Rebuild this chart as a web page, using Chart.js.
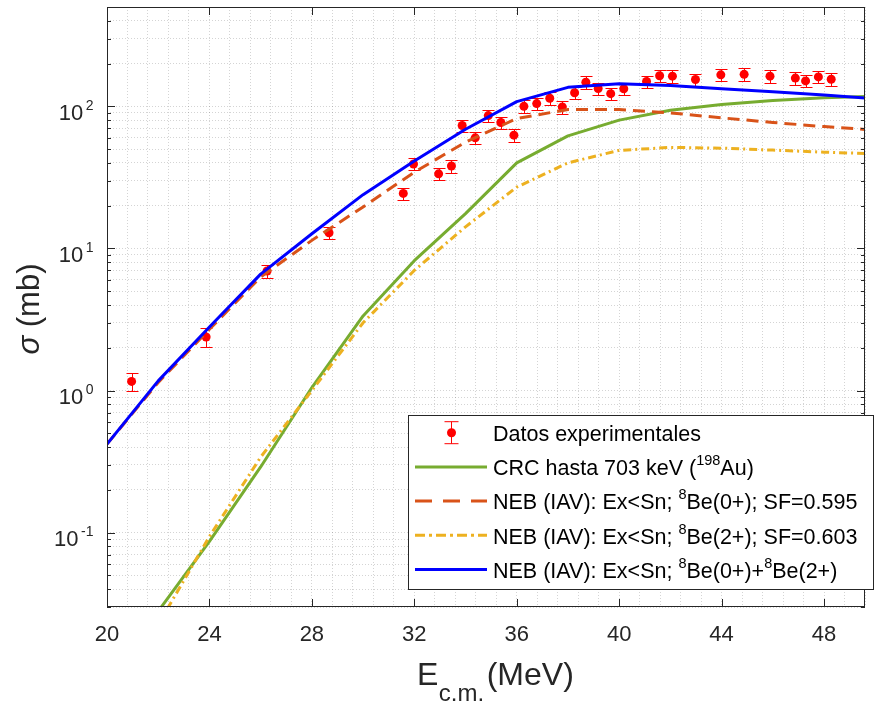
<!DOCTYPE html>
<html>
<head>
<meta charset="utf-8">
<script src="https://cdn.jsdelivr.net/npm/chart.js@4.4.1/dist/chart.umd.min.js"></script>
<style>
  body { margin: 0; background: #ffffff; }
  canvas { display: block; }
</style>
</head>
<body>
<canvas id="chart" width="880" height="704"></canvas>
<script>
"use strict";

/* energy grid of the calculated curves (MeV, c.m.) */
var curveE = [20, 22, 24, 26, 28, 30, 32, 34, 36, 38, 40, 42, 44, 46, 48, 50];
var crcSigma = [null, 0.028, 0.087, 0.29, 1.05, 3.35, 8.2, 17.6, 40, 62, 80, 94, 103, 110, 115, 118];
var neb0Sigma = [0.42, 1.14, 2.7, 6.3, 11.4, 19.6, 34.4, 56, 82, 95, 95, 90, 83, 77, 72, 68];
var neb2Sigma = [null, 0.0226, 0.094, 0.34, 1.0, 3.0, 7.0, 14.2, 27, 40, 49, 51.4, 50.8, 49.2, 47.6, 46.3];
var nebSumSigma = [0.42, 1.17, 2.8, 6.6, 12.7, 23.9, 41.2, 69, 108, 136, 144, 140, 133, 126.7, 120, 113];

/* experimental points */
var expE = [20.96, 23.87, 26.25, 28.67, 31.57, 31.97, 32.95, 33.45, 33.87, 34.38, 34.89, 35.38, 35.89,
            36.28, 36.78, 37.29, 37.78, 38.26, 38.7, 39.18, 39.67, 40.18, 41.07, 41.58, 42.08, 42.98,
            43.97, 44.88, 45.89, 46.88, 47.28, 47.78, 48.28];
var expSigma = [1.16, 2.38, 6.94, 12.9, 24.4, 39.3, 33.5, 38, 73.3, 60, 86.1, 76.9, 62.7,
                100, 104.5, 114, 98.9, 124.7, 148, 133.6, 122.8, 133, 149.6, 164, 163, 154.5,
                166.5, 168, 163, 158, 151, 161, 155];
var expErr = [0.16, 0.36, 0.7, 1.3, 2.4, 3.9, 3.3, 3.8, 7.3, 6.0, 8.6, 7.7, 6.3,
              10, 10.5, 11.4, 9.9, 12.5, 14.8, 13.4, 12.3, 13.3, 15, 16.4, 16.3, 15.5,
              16.7, 16.8, 16.3, 15.8, 15.1, 16.1, 15.5];

/* axes */
var xTickLabels = [20, 24, 28, 32, 36, 40, 44, 48];
var yDecades = [-1, 0, 1, 2];

/* legend text, sup = superscript part */
var legendLabels = [
  [{t: "Datos experimentales"}],
  [{t: "CRC hasta 703 keV ("}, {t: "198", sup: true}, {t: "Au)"}],
  [{t: "NEB (IAV): Ex<Sn; "}, {t: "8", sup: true}, {t: "Be(0+); SF=0.595"}],
  [{t: "NEB (IAV): Ex<Sn; "}, {t: "8", sup: true}, {t: "Be(2+); SF=0.603"}],
  [{t: "NEB (IAV): Ex<Sn; "}, {t: "8", sup: true}, {t: "Be(0+)+"}, {t: "8", sup: true}, {t: "Be(2+)"}]
];

var FONT = "'Liberation Sans', Arial, sans-serif";
var AXIS_COLOR = "#262626";
var GRID_COLOR = "rgba(38,38,38,0.2)";
var C_GREEN = "#77ac30", C_ORANGE = "#d95319", C_YELLOW = "#edb120", C_BLUE = "#0000ff", C_RED = "#ff0000";

function xy(xs, ys) {
  var out = [];
  for (var i = 0; i < xs.length; i++) out.push({x: xs[i], y: ys[i]});
  return out;
}

// grid positions: every 0.8 MeV on x, 1..9 x 10^n on y
var xGridValues = [];
for (var k = 0; k <= 37; k++) xGridValues.push(Number((20 + 0.8 * k).toFixed(1)));
var yGridValues = [];
for (var d = -2; d <= 2; d++) {
  for (var m = 1; m <= 9; m++) {
    var v = Number((m * Math.pow(10, d)).toPrecision(3));
    if (v >= 0.03 && v <= 500) yGridValues.push(v);
  }
}

var errorBars = {
  id: "errorBars",
  beforeDatasetsDraw: function (chart) {
    var ctx = chart.ctx, xs = chart.scales.x, ys = chart.scales.y;
    ctx.save();
    ctx.strokeStyle = C_RED;
    ctx.lineWidth = 1;
    for (var i = 0; i < expE.length; i++) {
      var px = Math.round(xs.getPixelForValue(expE[i])) + 0.5;
      var top = Math.round(ys.getPixelForValue(expSigma[i] + expErr[i])) + 0.5;
      var bot = Math.round(ys.getPixelForValue(expSigma[i] - expErr[i])) + 0.5;
      ctx.beginPath();
      ctx.moveTo(px, top); ctx.lineTo(px, bot);
      ctx.moveTo(px - 6, top); ctx.lineTo(px + 6, top);
      ctx.moveTo(px - 6, bot); ctx.lineTo(px + 6, bot);
      ctx.stroke();
    }
    ctx.restore();
  }
};

function drawRich(ctx, parts, x, y, size, supSize, raise) {
  for (var i = 0; i < parts.length; i++) {
    var p = parts[i];
    if (p.sup) {
      ctx.font = supSize + "px " + FONT;
      ctx.fillText(p.t, x, y - raise);
    } else {
      ctx.font = size + "px " + FONT;
      ctx.fillText(p.t, x, y);
    }
    x += ctx.measureText(p.t).width;
  }
}

var decorations = {
  id: "decorations",
  afterDraw: function (chart) {
    var ctx = chart.ctx, ca = chart.chartArea, xs = chart.scales.x, ys = chart.scales.y;
    ctx.save();

    /* box and inward ticks */
    ctx.strokeStyle = AXIS_COLOR;
    ctx.lineWidth = 1;
    ctx.strokeRect(ca.left + 0.5, ca.top + 0.5, ca.right - ca.left - 1, ca.bottom - ca.top - 1);
    ctx.beginPath();
    xTickLabels.forEach(function (t) {
      var px = Math.round(xs.getPixelForValue(t)) + 0.5;
      ctx.moveTo(px, ca.bottom); ctx.lineTo(px, ca.bottom - 8);
      ctx.moveTo(px, ca.top); ctx.lineTo(px, ca.top + 8);
    });
    yGridValues.forEach(function (t) {
      var py = Math.round(ys.getPixelForValue(t)) + 0.5;
      var major = Math.abs(Math.log10(t) - Math.round(Math.log10(t))) < 1e-9;
      var len = major ? 8 : 4;
      ctx.moveTo(ca.left, py); ctx.lineTo(ca.left + len, py);
      ctx.moveTo(ca.right, py); ctx.lineTo(ca.right - len, py);
    });
    ctx.stroke();

    /* y tick labels 10^n */
    ctx.fillStyle = AXIS_COLOR;
    ctx.textAlign = "left";
    ctx.textBaseline = "alphabetic";
    yDecades.forEach(function (e) {
      var py = ys.getPixelForValue(Math.pow(10, e));
      var sup = String(e);
      ctx.font = "14px " + FONT;
      var sw = ctx.measureText(sup).width;
      var sx = 93.5 - sw;
      ctx.fillText(sup, sx, py + 3.5);
      ctx.font = "22px " + FONT;
      var w10 = ctx.measureText("10").width;
      ctx.fillText("10", sx - 2.5 - w10, py + 13.5);
    });

    /* x title with subscript */
    ctx.font = "32px " + FONT;
    ctx.fillText("E", 417, 685);
    var ew = ctx.measureText("E").width;
    ctx.font = "24px " + FONT;
    ctx.fillText("c.m.", 417 + ew + 0.5, 701);
    var sw2 = ctx.measureText("c.m.").width;
    ctx.font = "32px " + FONT;
    ctx.fillText("(MeV)", 417 + ew + sw2 + 3, 685);

    /* y title, rotated */
    ctx.save();
    ctx.translate(39, 309);
    ctx.rotate(-Math.PI / 2);
    ctx.font = "italic 31px " + FONT;
    var sgw = ctx.measureText("\u03c3").width;
    ctx.font = "31px " + FONT;
    var rest = " (mb)";
    var rw = ctx.measureText(rest).width;
    var x0 = -(sgw + rw) / 2;
    ctx.font = "italic 31px " + FONT;
    ctx.fillText("\u03c3", x0, 0);
    ctx.font = "31px " + FONT;
    ctx.fillText(rest, x0 + sgw, 0);
    ctx.restore();

    /* legend */
    var L = 408, T = 415, R = 874, B = 590;
    ctx.fillStyle = "#ffffff";
    ctx.fillRect(L, T, R - L, B - T);
    ctx.strokeStyle = AXIS_COLOR;
    ctx.lineWidth = 1;
    ctx.strokeRect(L + 0.5, T + 0.5, R - L - 1, B - T - 1);

    var styles = [
      null,
      {c: C_GREEN, dash: []},
      {c: C_ORANGE, dash: [17, 11]},
      {c: C_YELLOW, dash: [10, 4, 3, 4]},
      {c: C_BLUE, dash: []}
    ];
    for (var i = 0; i < legendLabels.length; i++) {
      var base = 441 + 34.2 * i;
      var cy = base - 8.3;
      if (i === 0) {
        ctx.strokeStyle = C_RED;
        ctx.lineWidth = 1;
        ctx.setLineDash([]);
        ctx.beginPath();
        ctx.moveTo(451.5, cy - 11); ctx.lineTo(451.5, cy + 11);
        ctx.moveTo(444.5, cy - 11); ctx.lineTo(458.5, cy - 11);
        ctx.moveTo(444.5, cy + 11); ctx.lineTo(458.5, cy + 11);
        ctx.stroke();
        ctx.fillStyle = C_RED;
        ctx.beginPath();
        ctx.arc(451.5, cy, 4.5, 0, Math.PI * 2);
        ctx.fill();
      } else {
        ctx.strokeStyle = styles[i].c;
        ctx.lineWidth = 3;
        ctx.setLineDash(styles[i].dash);
        ctx.beginPath();
        ctx.moveTo(415, cy); ctx.lineTo(487, cy);
        ctx.stroke();
        ctx.setLineDash([]);
      }
      ctx.fillStyle = "#000000";
      drawRich(ctx, legendLabels[i], 493, base, 21.5, 14.5, 10);
    }
    ctx.restore();
  }
};

var ctx = document.getElementById("chart");
var myChart = new Chart(ctx, {
  type: "line",
  data: {
    datasets: [
      {
        label: "NEB (IAV): Ex<Sn; 8Be(0+)+8Be(2+)",
        data: xy(curveE, nebSumSigma),
        borderColor: C_BLUE, borderWidth: 3, pointRadius: 0, fill: false, tension: 0,
        borderJoinStyle: "round"
      },
      {
        label: "NEB (IAV): Ex<Sn; 8Be(2+); SF=0.603",
        data: xy(curveE, neb2Sigma),
        borderColor: C_YELLOW, borderWidth: 3, pointRadius: 0, fill: false, tension: 0,
        borderDash: [8, 4, 2, 4]
      },
      {
        label: "NEB (IAV): Ex<Sn; 8Be(0+); SF=0.595",
        data: xy(curveE, neb0Sigma),
        borderColor: C_ORANGE, borderWidth: 3, pointRadius: 0, fill: false, tension: 0,
        borderDash: [12, 7]
      },
      {
        label: "CRC hasta 703 keV (198Au)",
        data: xy(curveE, crcSigma),
        borderColor: C_GREEN, borderWidth: 3, pointRadius: 0, fill: false, tension: 0,
        borderJoinStyle: "round"
      },
      {
        label: "Datos experimentales",
        data: xy(expE, expSigma),
        showLine: false,
        pointRadius: 4.5, pointBorderWidth: 0,
        pointBackgroundColor: C_RED, pointBorderColor: C_RED,
        backgroundColor: C_RED, borderColor: C_RED
      }
    ]
  },
  options: {
    responsive: false,
    animation: false,
    layout: { padding: { top: 7, right: 0, left: 0, bottom: 0 } },
    plugins: {
      legend: { display: false },
      tooltip: { enabled: false }
    },
    scales: {
      x: {
        type: "linear", min: 20, max: 49.6,
        afterBuildTicks: function (s) { s.ticks = xGridValues.map(function (v) { return {value: v}; }); },
        afterFit: function (s) { s.height = 97; },
        ticks: {
          autoSkip: false, maxRotation: 0, padding: 15, color: AXIS_COLOR,
          font: { family: FONT, size: 22 },
          callback: function (v) { return xTickLabels.indexOf(v) >= 0 ? String(v) : ""; }
        },
        grid: { color: GRID_COLOR, drawTicks: false, lineWidth: 1 },
        border: { display: false, dash: [1, 2] }
      },
      y: {
        type: "logarithmic", min: 0.03, max: 500,
        afterBuildTicks: function (s) { s.ticks = yGridValues.map(function (v) { return {value: v}; }); },
        afterFit: function (s) { s.width = 107; },
        ticks: { display: false },
        grid: { color: GRID_COLOR, drawTicks: false, lineWidth: 1 },
        border: { display: false, dash: [1, 2] }
      }
    }
  },
  plugins: [errorBars, decorations]
});
</script>
</body>
</html>
